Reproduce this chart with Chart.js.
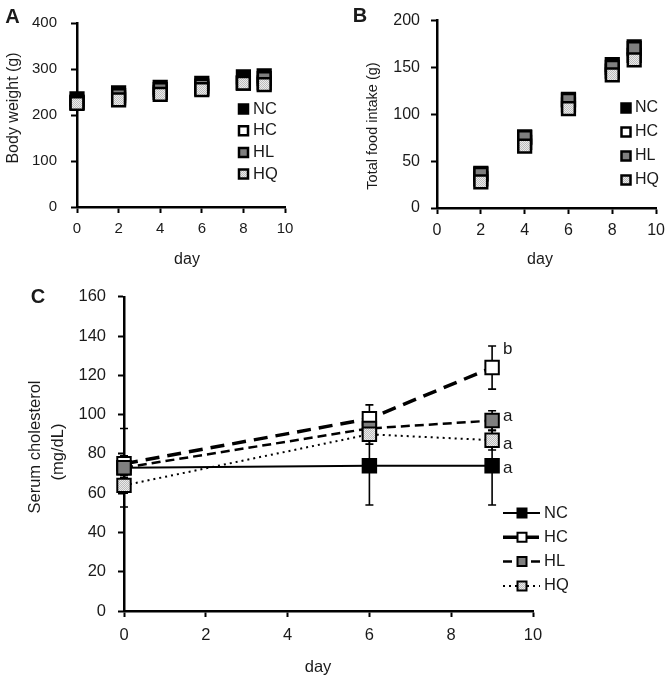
<!DOCTYPE html>
<html><head><meta charset="utf-8">
<script src="https://cdn.jsdelivr.net/npm/chart.js@4.4.1/dist/chart.umd.min.js"></script>
<style>
html,body{margin:0;padding:0;background:#fff;}
#wrap{position:relative;width:672px;height:680px;overflow:hidden;background:#fff;}
canvas{position:absolute;}
</style></head><body>
<div id="wrap">
<canvas id="cA" width="330" height="275" style="left:0;top:0;width:330px;height:275px"></canvas>
<canvas id="cB" width="342" height="275" style="left:330px;top:0;width:342px;height:275px"></canvas>
<canvas id="cC" width="672" height="405" style="left:0;top:275px;width:672px;height:405px"></canvas>
</div>
<script>
// ---------- DATA ----------
const groups = ['NC', 'HC', 'HL', 'HQ'];

// Panel A: body weight (g)
const daysA = [0, 2, 4, 6, 8, 9];
const bwNC = [235, 248, 260, 269, 283, 285];
const bwHC = [228, 237, 249, 258, 270, 270];
const bwHL = [227, 242, 255, 263, 270, 279];
const bwHQ = [225, 233, 245, 255, 269, 266];
const xTicksA = [0, 2, 4, 6, 8, 10];
const yTicksA = [0, 100, 200, 300, 400];

// Panel B: total food intake (g)
const daysB = [2, 4, 6, 8, 9];
const fiNC = [37, 76, 116, 153, 172];
const fiHC = [31, 70, 110, 146, 163];
const fiHL = [36, 75, 115, 150, 170];
const fiHQ = [28, 66, 106, 142, 158];
const xTicksB = [0, 2, 4, 6, 8, 10];
const yTicksB = [0, 50, 100, 150, 200];

// Panel C: serum cholesterol (mg/dL), mean and error
const daysC = [0, 6, 9];
const chNC = [73, 74, 74];
const chHC = [75, 98, 124];
const chHL = [73, 93, 97];
const chHQ = [64, 90, 87];
const errNC = [20, 20, 20];
const errHC = [4, 7, 11];
const errHL = [4, 5, 5];
const errHQ = [4, 5, 5];
const sigC = ['a', 'b', 'a', 'a'];
const xTicksC = [0, 2, 4, 6, 8, 10];
const yTicksC = [0, 20, 40, 60, 80, 100, 120, 140, 160];

// ---------- STYLE HELPERS ----------
const FONT = "'Liberation Sans', Arial, Helvetica, sans-serif";
const TXT = '#1a1a1a';

function makePattern(canvas) {
  const pc = document.createElement('canvas');
  pc.width = 2; pc.height = 2;
  const g = pc.getContext('2d');
  g.fillStyle = '#ececec'; g.fillRect(0, 0, 2, 2);
  g.fillStyle = '#bcbcbc'; g.fillRect(0, 0, 1, 1); g.fillRect(1, 1, 1, 1);
  return canvas.getContext('2d').createPattern(pc, 'repeat');
}

function txt(ctx, s, x, y, size, o) {
  o = o || {};
  ctx.save();
  ctx.font = (o.bold ? 'bold ' : '') + size + 'px ' + FONT;
  ctx.fillStyle = TXT;
  ctx.textAlign = o.align || 'center';
  ctx.textBaseline = 'middle';
  ctx.translate(x, y);
  if (o.rot) ctx.rotate(o.rot);
  ctx.fillText(s, 0, 0);
  ctx.restore();
}
function sq(ctx, x, y, side, fill, bw) {
  ctx.save();
  ctx.fillStyle = fill; ctx.strokeStyle = '#000'; ctx.lineWidth = bw;
  ctx.beginPath(); ctx.rect(x - side / 2, y - side / 2, side, side);
  ctx.fill(); ctx.stroke(); ctx.restore();
}

const annot = {
  id: 'annot',
  beforeDatasetsDraw(chart, args, o) {
    if (!o.errorbars) return;
    const ctx = chart.ctx, xs = chart.scales.x, ys = chart.scales.y;
    ctx.save();
    ctx.strokeStyle = '#000'; ctx.lineWidth = 1.6;
    chart.data.datasets.forEach(ds => {
      if (!ds.errors) return;
      ds.data.forEach((p, i) => {
        const e = ds.errors[i];
        const x = xs.getPixelForValue(p.x);
        const y1 = ys.getPixelForValue(p.y + e), y2 = ys.getPixelForValue(p.y - e);
        ctx.beginPath();
        ctx.moveTo(x, y1); ctx.lineTo(x, y2);
        ctx.moveTo(x - 4, y1); ctx.lineTo(x + 4, y1);
        ctx.moveTo(x - 4, y2); ctx.lineTo(x + 4, y2);
        ctx.stroke();
      });
    });
    ctx.restore();
  },
  afterDraw(chart, args, o) {
    const ctx = chart.ctx;
    (o.texts || []).forEach(t => txt(ctx, t.s, t.x, t.y, t.size, t));
    const L = o.legend;
    if (L) {
      chart.data.datasets.forEach((ds, i) => {
        const y = L.y + i * L.dy;
        if (L.line) {
          ctx.save();
          ctx.strokeStyle = '#000'; ctx.lineWidth = ds.borderWidth;
          ctx.setLineDash(ds.borderDash || []);
          ctx.beginPath(); ctx.moveTo(L.x0, y); ctx.lineTo(L.x1, y); ctx.stroke();
          ctx.restore();
        }
        sq(ctx, L.mx, y, L.side, ds.pointBackgroundColor, L.bw);
        txt(ctx, ds.label, L.tx, y, L.font, { align: 'left' });
      });
    }
    if (o.sig) {
      const xs = chart.scales.x, ys = chart.scales.y;
      chart.data.datasets.forEach((ds, i) => {
        const n = ds.data.length - 1, p = ds.data[n];
        const base = o.sig.atErrTop[i] ? p.y + ds.errors[n] : p.y;
        txt(ctx, ds.sig, xs.getPixelForValue(p.x) + o.sig.dx, ys.getPixelForValue(base) + o.sig.dy[i], o.sig.size, { align: 'left' });
      });
    }
  }
};

function axis(min, max, ticksArr, fontSize, pad, fit, isX) {
  return {
    type: 'linear', min: min, max: max,
    afterBuildTicks: s => { s.ticks = ticksArr.map(v => ({ value: v })); },
    afterFit: s => { if (isX) s.height = fit; else s.width = fit; },
    ticks: { font: { size: fontSize, family: FONT }, color: TXT, padding: pad, maxRotation: 0, autoSkip: false },
    grid: { display: true, drawOnChartArea: false, drawTicks: true, tickLength: 6, tickWidth: 2, color: '#000' },
    border: { display: true, color: '#000', width: 2.5 }
  };
}

function pts(days, vals) { return days.map((d, i) => ({ x: d, y: vals[i] })); }

const cA = document.getElementById('cA');
const cB = document.getElementById('cB');
const cC = document.getElementById('cC');
const fills = [ '#000000', '#ffffff', '#7f7f7f' ];

function scatterSets(canvas, days, series, radius, bw) {
  const f = fills.concat([makePattern(canvas)]);
  return series.map((vals, i) => ({
    label: groups[i], data: pts(days, vals), showLine: false,
    pointStyle: 'rect', pointRadius: radius, pointHoverRadius: radius,
    pointBackgroundColor: f[i], pointBorderColor: '#000', pointBorderWidth: bw,
    order: 4 - i, clip: false
  }));
}

Chart.defaults.font.family = FONT;

// ---------- PANEL A ----------
new Chart(cA, {
  type: 'scatter',
  data: { datasets: scatterSets(cA, daysA, [bwNC, bwHC, bwHL, bwHQ], 9, 2.5) },
  options: {
    responsive: false, animation: false, events: [],
    layout: { padding: { left: 0, right: 45, top: 11, bottom: 0 } },
    scales: {
      x: axis(0, 10, xTicksA, 15, 7, 68, true),
      y: axis(0, 400, yTicksA, 15, 14, 77, false)
    },
    plugins: {
      legend: { display: false }, tooltip: { enabled: false },
      annot: {
        texts: [
          { s: 'A', x: 12.5, y: 17.5, size: 20, bold: true },
          { s: 'Body weight (g)', x: 14, y: 108, size: 16, rot: -Math.PI / 2 },
          { s: 'day', x: 187, y: 260, size: 16 }
        ],
        legend: { mx: 243.5, tx: 253, y: 109, dy: 21.7, side: 9, bw: 2.5, font: 16.5 }
      }
    }
  },
  plugins: [annot]
});

// ---------- PANEL B ----------
new Chart(cB, {
  type: 'scatter',
  data: { datasets: scatterSets(cB, daysB, [fiNC, fiHC, fiHL, fiHQ], 9, 2.5) },
  options: {
    responsive: false, animation: false, events: [],
    layout: { padding: { left: 0, right: 14, top: 14, bottom: 0 } },
    scales: {
      x: axis(0, 10, xTicksB, 16, 7, 67, true),
      y: axis(0, 200, yTicksB, 16, 11, 107, false)
    },
    plugins: {
      legend: { display: false }, tooltip: { enabled: false },
      annot: {
        texts: [
          { s: 'B', x: 30, y: 16, size: 20, bold: true },
          { s: 'Total food intake (g)', x: 43, y: 126, size: 14.5, rot: -Math.PI / 2 },
          { s: 'day', x: 210, y: 260, size: 16 }
        ],
        legend: { mx: 296, tx: 305, y: 108, dy: 24, side: 9, bw: 2.5, font: 16 }
      }
    }
  },
  plugins: [annot]
});

// ---------- PANEL C ----------
const cFills = fills.concat([makePattern(cC)]);
const lineStyles = [
  { w: 2, dash: [] },
  { w: 3.5, dash: [14, 8] },
  { w: 2.5, dash: [9, 5] },
  { w: 2, dash: [2, 4] }
];
const seriesC = [chNC, chHC, chHL, chHQ];
const errsC = [errNC, errHC, errHL, errHQ];
new Chart(cC, {
  type: 'scatter',
  data: {
    datasets: seriesC.map((vals, i) => ({
      label: groups[i], data: pts(daysC, vals), showLine: true, tension: 0,
      borderColor: '#000', borderWidth: lineStyles[i].w, borderDash: lineStyles[i].dash,
      pointStyle: 'rect', pointRadius: 9.5, pointHoverRadius: 9.5,
      pointBackgroundColor: cFills[i], pointBorderColor: '#000', pointBorderWidth: 2,
      errors: errsC[i], sig: sigC[i], order: 4 - i, clip: false
    }))
  },
  options: {
    responsive: false, animation: false, events: [],
    layout: { padding: { left: 0, right: 139, top: 19, bottom: 0 } },
    scales: {
      x: axis(0, 10, xTicksC, 16.5, 9, 69, true),
      y: axis(0, 160, yTicksC, 16.5, 12, 124, false)
    },
    plugins: {
      legend: { display: false }, tooltip: { enabled: false },
      annot: {
        errorbars: true,
        texts: [
          { s: 'C', x: 38, y: 22, size: 20, bold: true },
          { s: 'Serum cholesterol', x: 35, y: 172, size: 16.5, rot: -Math.PI / 2 },
          { s: '(mg/dL)', x: 58, y: 177, size: 16.5, rot: -Math.PI / 2 },
          { s: 'day', x: 318, y: 392, size: 16.5 }
        ],
        legend: { line: true, x0: 503, x1: 540, mx: 522, tx: 544, y: 238, dy: 24.3, side: 9, bw: 2, font: 16.5 },
        sig: { dx: 11, size: 17, dy: [3, 3, -4, 4], atErrTop: [false, true, false, false] }
      }
    }
  },
  plugins: [annot]
});
</script>
</body></html>
